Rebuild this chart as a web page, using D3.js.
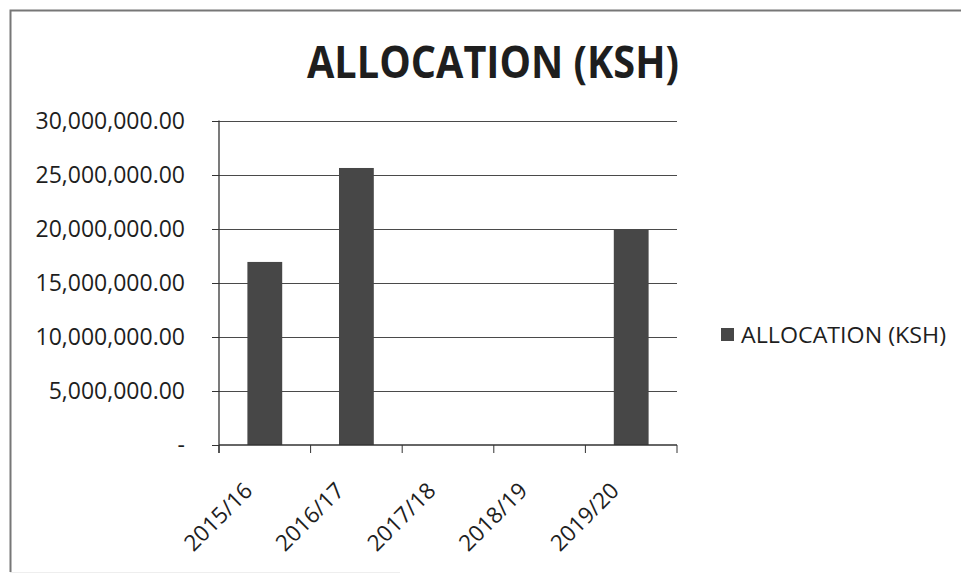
<!DOCTYPE html>
<html>
<head>
<meta charset="utf-8">
<script src="https://cdn.jsdelivr.net/npm/d3@7"></script>
<style>
  body { margin: 0; background: #fff; }
  text { font-family: "Open Sans", sans-serif; fill: #1e1e1e; }
</style>
</head>
<body>
<div id="chart"></div>
<script>
// data
var years = ["2015/16", "2016/17", "2017/18", "2018/19", "2019/20"];
var allocation = [16950000, 25650000, 0, 0, 19950000];
var yTicks = [0, 5000000, 10000000, 15000000, 20000000, 25000000, 30000000];
var chartTitle = "ALLOCATION (KSH)";
var seriesName = "ALLOCATION (KSH)";

var width = 961, height = 577;
var margin = {top: 121, right: 284, bottom: 132, left: 219};

var svg = d3.select("#chart").append("svg")
  .attr("width", width)
  .attr("height", height);

// frame of the chart area (only top / left / faint bottom show)
svg.append("path")
  .attr("d", "M965,10.5 H10.5 V572")
  .attr("fill", "none")
  .attr("stroke", "#777")
  .attr("stroke-width", 2);
svg.append("line")
  .attr("x1", 10).attr("x2", 400).attr("y1", 572.5).attr("y2", 572.5)
  .attr("stroke", "#eeeeee");

var x = d3.scaleBand()
  .domain(years)
  .range([margin.left, width - margin.right])
  .paddingInner(0.62)
  .paddingOuter(0.31);

var y = d3.scaleLinear()
  .domain([0, 30000000])
  .range([height - margin.bottom, margin.top]);

var fmt = d3.format(",.2f");

// gridlines
svg.append("g")
  .selectAll("line")
  .data(yTicks.slice(1))
  .join("line")
  .attr("x1", margin.left)
  .attr("x2", width - margin.right)
  .attr("y1", function(d) { return Math.round(y(d)) + 0.5; })
  .attr("y2", function(d) { return Math.round(y(d)) + 0.5; })
  .attr("stroke", "#4a4a4a")
  .attr("stroke-width", 1.2);

// bars
svg.append("g")
  .selectAll("rect")
  .data(years)
  .join("rect")
  .attr("x", function(d) { return x(d); })
  .attr("y", function(d, i) { return y(allocation[i]); })
  .attr("width", x.bandwidth())
  .attr("height", function(d, i) { return y(0) - y(allocation[i]); })
  .attr("fill", "#474747");

// y axis
var yAxis = svg.append("g")
  .attr("transform", "translate(" + margin.left + ",0)")
  .call(d3.axisLeft(y)
    .tickValues(yTicks)
    .tickSize(7)
    .tickPadding(27)
    .tickFormat(function(d) { return d === 0 ? "-" : fmt(d); }));
yAxis.select(".domain").attr("stroke", "#333").attr("stroke-width", 1.3)
  .attr("d", "M0," + (y(30000000) - 0.5) + "V" + (y(0) + 8));
yAxis.selectAll(".tick line").attr("stroke", "#333");
yAxis.selectAll(".tick text")
  .style("font-size", "23px")
  .style("font-family", "'Open Sans', sans-serif")
  .attr("fill", "#1e1e1e");

// x axis: ticks sit on band edges, labels are rotated
var xAxisG = svg.append("g")
  .attr("transform", "translate(0," + y(0) + ")");
xAxisG.append("line")
  .attr("x1", margin.left).attr("x2", width - margin.right)
  .attr("stroke", "#333").attr("stroke-width", 1.3);
var edges = years.map(function(d) { return x(d) - x.step() * x.paddingInner() / 2; });
edges.push(width - margin.right);
xAxisG.selectAll(".edge")
  .data(edges)
  .join("line")
  .attr("class", "edge")
  .attr("x1", function(d) { return d; })
  .attr("x2", function(d) { return d; })
  .attr("y1", 0).attr("y2", 8)
  .attr("stroke", "#333");

xAxisG.selectAll(".lbl")
  .data(years)
  .join("text")
  .attr("class", "lbl")
  .attr("text-anchor", "end")
  .attr("transform", function(d) {
    return "translate(" + (x(d) + x.bandwidth() / 2 - 22) + ",36) rotate(-45)";
  })
  .attr("dy", "0.7em")
  .style("font-size", "22.5px")
  .text(function(d) { return d; });

// title
svg.append("text")
  .attr("x", 493)
  .attr("y", 78)
  .attr("text-anchor", "middle")
  .attr("textLength", 372)
  .attr("lengthAdjust", "spacingAndGlyphs")
  .style("font-size", "44px")
  .style("font-weight", "bold")
  .text(chartTitle);

// legend
var legend = svg.append("g").attr("transform", "translate(721,328)");
legend.append("rect")
  .attr("width", 13).attr("height", 13)
  .attr("fill", "#474747");
legend.append("text")
  .attr("x", 20)
  .attr("y", 7)
  .attr("dy", "0.35em")
  .attr("textLength", 205)
  .attr("lengthAdjust", "spacingAndGlyphs")
  .style("font-size", "22.5px")
  .text(seriesName);
</script>
</body>
</html>
